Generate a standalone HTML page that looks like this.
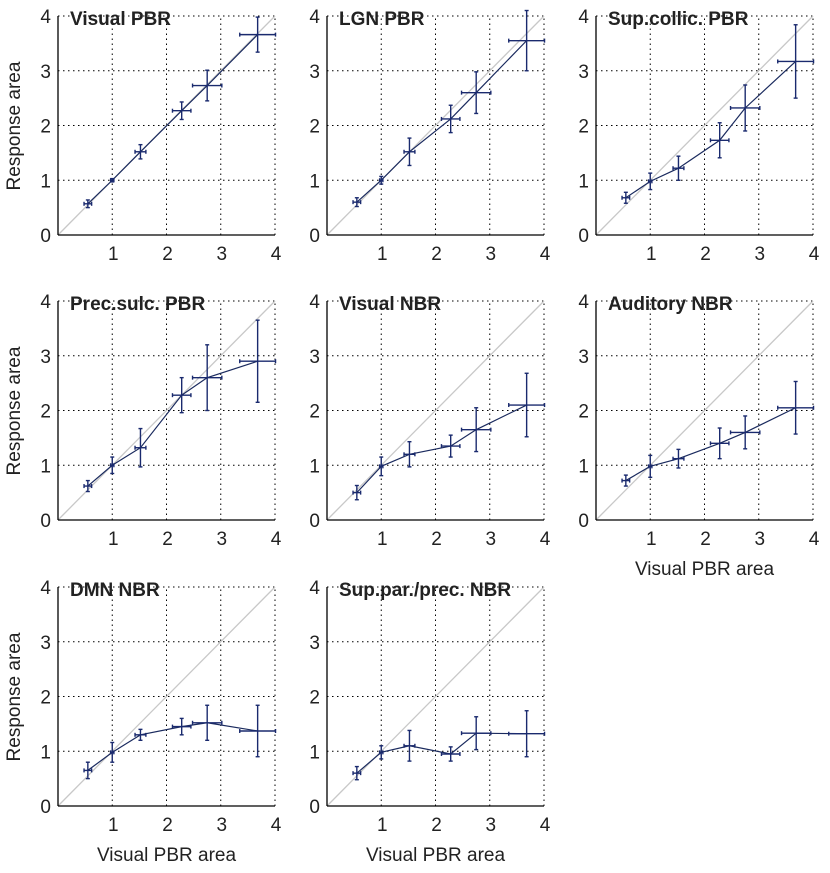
<!DOCTYPE html>
<html><head><meta charset="utf-8"><style>
body{margin:0;background:#fff;}
svg{display:block;font-family:"Liberation Sans",Arial,sans-serif;}
</style></head><body>
<svg id="c" width="830" height="873"></svg>
<script>
const titles=["Visual PBR","LGN PBR","Sup.collic. PBR","Prec.sulc. PBR","Visual NBR","Auditory NBR","DMN NBR","Sup.par./prec. NBR"];
const xVals=[0.55,1.0,1.52,2.28,2.75,3.68];
const xErr=[0.07,0.03,0.1,0.17,0.27,0.33];
const yVals=[
[0.57,1.0,1.52,2.27,2.73,3.66],
[0.6,1.0,1.52,2.12,2.6,3.55],
[0.68,0.98,1.22,1.73,2.32,3.17],
[0.62,1.0,1.32,2.28,2.6,2.9],
[0.5,0.98,1.2,1.35,1.65,2.1],
[0.72,0.98,1.12,1.4,1.6,2.05],
[0.65,0.98,1.3,1.45,1.52,1.37],
[0.6,0.98,1.1,0.95,1.33,1.32]];
const yErr=[
[0.07,0.03,0.13,0.16,0.28,0.32],
[0.08,0.07,0.25,0.25,0.38,0.55],
[0.1,0.15,0.22,0.32,0.42,0.67],
[0.1,0.15,0.35,0.32,0.6,0.75],
[0.13,0.17,0.23,0.2,0.4,0.58],
[0.1,0.2,0.17,0.28,0.3,0.48],
[0.15,0.18,0.1,0.15,0.32,0.47],
[0.12,0.12,0.28,0.13,0.3,0.42]];
const ticks=[0,1,2,3,4];
const svg=document.getElementById('c');
const NS='http://www.w3.org/2000/svg';
function mk(t,a,p){const e=document.createElementNS(NS,t);for(const k in a)e.setAttribute(k,a[k]);(p||svg).appendChild(e);return e;}
const colX=[58,327,596],rowY=[235,520,806],S=54.25,SY=54.75;
titles.forEach((title,i)=>{
  const ox=colX[i%3],oy=rowY[Math.floor(i/3)];
  const X=v=>ox+v*S,Y=v=>oy-v*SY;
  const g=mk('g',{});
  
  
  for(let t=1;t<=4;t++){
    mk('line',{x1:X(t),x2:X(t),y1:Y(0),y2:Y(4),stroke:'#000','stroke-width':1,'stroke-dasharray':'1.5,3.5'},g);
    mk('line',{x1:X(0),x2:X(4),y1:Y(t),y2:Y(t),stroke:'#000','stroke-width':1,'stroke-dasharray':'1.5,3.5'},g);
  }
  const d=mk('line',{x1:X(0),y1:Y(0),x2:X(4),y2:Y(4),stroke:'#c8c8c8','stroke-width':1.3},g);
  
  
  mk('line',{x1:X(0),x2:X(4),y1:Y(0),y2:Y(0),stroke:'#000','stroke-width':1.3},g);
  mk('line',{x1:X(0),x2:X(0),y1:Y(0),y2:Y(4),stroke:'#000','stroke-width':1.3},g);
  ticks.forEach(t=>{
    const yl=mk('text',{x:X(0)-7,y:Y(t)+7,'text-anchor':'end','font-size':19,fill:'#222'},g);yl.textContent=t;
    
    
    if(t>0){const xl=mk('text',{x:X(t)+1,y:Y(0)+25,'text-anchor':'middle','font-size':19,fill:'#222'},g);xl.textContent=t;
    
    }
  });
  const tt=mk('text',{x:ox+12,y:oy-210,'font-size':19,'font-weight':'bold',fill:'#222'},g);tt.textContent=title;
  
  
  const ys=yVals[i],ye=yErr[i];
  const pl=mk('polyline',{points:xVals.map((x,j)=>X(x)+','+Y(ys[j])).join(' '),fill:'none',stroke:'#1a2a5e','stroke-width':1.2},g);
  
  
  xVals.forEach((x,j)=>{
    const eg=mk('g',{stroke:'#1a2a6e','stroke-width':1.4},g);
    
    
    const cx=X(x),cy=Y(ys[j]),y1=Y(ys[j]+ye[j]),y2=Y(ys[j]-ye[j]),x1=X(x-xErr[j]),x2=X(x+xErr[j]);
    mk('line',{x1:cx,x2:cx,y1:y1,y2:y2},eg);
    mk('line',{x1:cx-2,x2:cx+2,y1:y1,y2:y1},eg);
    mk('line',{x1:cx-2,x2:cx+2,y1:y2,y2:y2},eg);
    mk('line',{x1:x1,x2:x2,y1:cy,y2:cy},eg);
    mk('line',{x1:x1,x2:x1,y1:cy-2,y2:cy+2},eg);
    mk('line',{x1:x2,x2:x2,y1:cy-2,y2:cy+2},eg);
  });
  if(i%3===0){
    const yt=mk('text',{transform:`translate(${ox-38},${oy-109}) rotate(-90)`,'text-anchor':'middle','font-size':19,fill:'#222'},g);
    yt.textContent='Response area';
    
    
  }
  if(i>=5){
    const xt=mk('text',{x:X(2),y:oy+55,'text-anchor':'middle','font-size':19,fill:'#222'},g);
    xt.textContent='Visual PBR area';
    
    
  }
});
</script>
</body></html>
